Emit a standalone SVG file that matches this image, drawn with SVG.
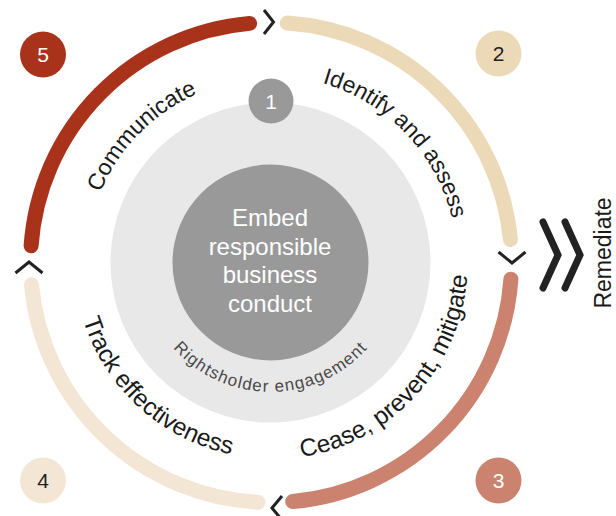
<svg xmlns="http://www.w3.org/2000/svg" width="616" height="516" viewBox="0 0 616 516">
<style>
.arc{fill:none;stroke-width:15;stroke-linecap:round}
.chev{fill:none;stroke:#222;stroke-width:3;stroke-linejoin:miter}
.big{fill:none;stroke:#222;stroke-width:7;stroke-linecap:round;stroke-linejoin:miter}
.lbl{font-family:"Liberation Sans",Arial,sans-serif;font-size:23px;fill:#1a1a1a}
.lbl2{font-family:"Liberation Sans",Arial,sans-serif;font-size:24.5px;fill:#1a1a1a}
.ctr{font-family:"Liberation Sans",Arial,sans-serif;font-size:24px;fill:#fff;text-anchor:middle}
.num{font-family:"Liberation Sans",Arial,sans-serif;font-size:21px;text-anchor:middle}
.rh{font-family:"Liberation Sans",Arial,sans-serif;font-size:17px;fill:#4a4a4a;letter-spacing:1.1px}
</style>
<defs>
<path id="pComm" d="M130.6,382 A184,184 0 0 1 387.5,120.5"/>
<path id="pIdent" d="M153.6,116.6 A187,187 0 0 1 411,385.9"/>
<path id="pCease" d="M151.1,419.2 A197,197 0 0 0 415.3,128.9"/>
<path id="pTrack" d="M114.6,143.7 A196,196 0 0 0 403.4,406.5"/>
<path id="pRh" d="M141,273.8 A130,130 0 0 0 399.9,273.8"/>
</defs>
<g id="core">
<circle cx="270.5" cy="262.5" r="160" fill="#e8e8e8"/>
<circle cx="270.5" cy="262.5" r="98" fill="#999999"/>
<text class="ctr"><tspan x="270" y="226">Embed</tspan><tspan x="270" y="254.5">responsible</tspan><tspan x="270" y="283">business</tspan><tspan x="270" y="311.5">conduct</tspan></text>
<text class="rh"><textPath href="#pRh" startOffset="50%" text-anchor="middle">Rightsholder engagement</textPath></text>
</g>
<g id="step1">
<circle cx="271" cy="101" r="22.5" fill="#999999"/>
<text class="num" x="271" y="108.5" fill="#fff">1</text>
</g>
<g id="connectors">
<path class="chev" d="M264,10 L273.5,22 L264,34"/>
<path class="chev" d="M498.5,252 L512,263 L525.5,252"/>
<path class="chev" d="M282,496 L272,508 L282,520"/>
<path class="chev" d="M15.5,273 L29,262 L42.5,273"/>
</g>
<g id="step5">
<path class="arc" stroke="#a9321a" d="M31.1,245.8 A240,240 0 0 1 249.6,23.4"/>
<circle cx="43" cy="54.5" r="23" fill="#a9321a"/>
<text class="num" x="43" y="62" fill="#fff">5</text>
<text class="lbl"><textPath href="#pComm" startOffset="50%" text-anchor="middle">Communicate</textPath></text>
</g>
<g id="step2">
<path class="arc" stroke="#ecd9b7" d="M287.3,23.1 A240,240 0 0 1 510.4,239.5"/>
<circle cx="498.5" cy="53.5" r="23" fill="#ecd9b7"/>
<text class="num" x="498.5" y="61" fill="#222">2</text>
<text class="lbl"><textPath href="#pIdent" startOffset="50%" text-anchor="middle">Identify and assess</textPath></text>
</g>
<g id="step3">
<path class="arc" stroke="#cb8370" d="M510.9,279.2 A240,240 0 0 1 292.7,501.5"/>
<circle cx="498.5" cy="480.5" r="23" fill="#cb8370"/>
<text class="num" x="498.5" y="488" fill="#fff">3</text>
<text class="lbl2"><textPath href="#pCease" startOffset="50%" text-anchor="middle">Cease, prevent, mitigate</textPath></text>
</g>
<g id="step4">
<path class="arc" stroke="#f4e6d4" d="M258,502.2 A240,240 0 0 1 31.5,284.7"/>
<circle cx="43" cy="480.5" r="23" fill="#f4e6d4"/>
<text class="num" x="43" y="488" fill="#222">4</text>
<text class="lbl2"><textPath href="#pTrack" startOffset="50%" text-anchor="middle">Track effectiveness</textPath></text>
</g>
<g id="remediate">
<path class="big" d="M543,222 L558,255 L543,288"/>
<path class="big" d="M565,222 L580,255 L565,288"/>
<text class="lbl" transform="translate(610.5,253) rotate(-90)" text-anchor="middle" font-size="24">Remediate</text>
</g>
</svg>
